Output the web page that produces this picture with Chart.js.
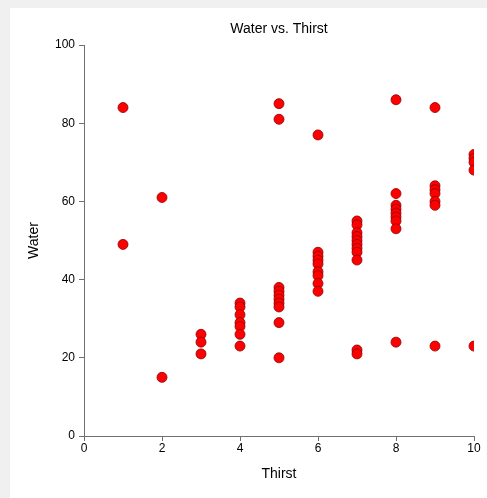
<!DOCTYPE html>
<html>
<head>
<meta charset="utf-8">
<script src="https://cdn.jsdelivr.net/npm/chart.js@4.4.1/dist/chart.umd.min.js"></script>
<style>
  html, body { margin: 0; padding: 0; background: #f0f0f0; }
  #wrap { position: absolute; left: 10px; top: 8px; width: 477px; height: 490px; background: #fff; }
</style>
</head>
<body>
<div id="wrap"><canvas id="myChart"></canvas></div>
<script>
// thirst rating and litres of water, one entry per subject
const thirst = [
  1, 1,
  2, 2,
  3, 3, 3,
  4, 4, 4, 4, 4, 4, 4,
  5, 5, 5, 5, 5, 5, 5, 5, 5, 5,
  6, 6, 6, 6, 6, 6, 6, 6, 6,
  7, 7, 7, 7, 7, 7, 7, 7, 7, 7, 7,
  8, 8, 8, 8, 8, 8, 8, 8, 8,
  9, 9, 9, 9, 9, 9, 9,
  10, 10, 10, 10, 10
];
const water = [
  84, 49,
  61, 15,
  26, 24, 21,
  34, 33, 31, 29, 28, 26, 23,
  85, 81, 38, 37, 36, 35, 34, 33, 29, 20,
  77, 47, 46, 45, 44, 42, 41, 39, 37,
  55, 54, 52, 51, 50, 49, 48, 47, 45, 22, 21,
  86, 62, 59, 58, 57, 56, 55, 53, 24,
  84, 64, 63, 62, 60, 59, 23,
  72, 71, 70, 68, 23
];
const xTicks = [0, 2, 4, 6, 8, 10];
const yTicks = [0, 20, 40, 60, 80, 100];

let points = [];
for (let i = 0; i < thirst.length; i++) {
  points.push({ x: thirst[i], y: water[i] });
}

const font = 'Arial, "Liberation Sans", sans-serif';
const axisColor = '#707070';

const ctx = document.getElementById('myChart').getContext('2d');
new Chart(ctx, {
  type: 'scatter',
  data: {
    datasets: [{
      label: 'Water',
      data: points,
      backgroundColor: '#ff0000',
      borderColor: '#8b0000',
      borderWidth: 0.8,
      pointRadius: 5,
      pointHoverRadius: 5
    }]
  },
  options: {
    responsive: true,
    maintainAspectRatio: false,
    animation: false,
    layout: { padding: { left: 0, right: 13, top: 0, bottom: 0 } },
    plugins: {
      legend: { display: false },
      tooltip: { enabled: false },
      title: {
        display: true,
        text: 'Water vs. Thirst',
        fullSize: false,
        color: '#000',
        font: { family: font, size: 14, weight: 'normal' },
        padding: { top: 12.6, bottom: 7.6 }
      }
    },
    scales: {
      x: {
        type: 'linear',
        min: xTicks[0],
        max: xTicks[xTicks.length - 1],
        afterBuildTicks: axis => { axis.ticks = xTicks.map(v => ({ value: v })); },
        afterFit: axis => { axis.height = 62; },
        grid: { drawOnChartArea: false, drawTicks: true, tickLength: 5, color: axisColor },
        border: { color: axisColor, width: 1 },
        ticks: { color: '#000', padding: 0, font: { family: font, size: 12 } },
        title: {
          display: true,
          text: 'Thirst',
          color: '#000',
          font: { family: font, size: 14 },
          padding: { top: 0, bottom: 15 }
        }
      },
      y: {
        type: 'linear',
        min: yTicks[0],
        max: yTicks[yTicks.length - 1],
        afterBuildTicks: axis => { axis.ticks = yTicks.map(v => ({ value: v })); },
        afterFit: axis => { axis.width = 74; },
        grid: { drawOnChartArea: false, drawTicks: true, tickLength: 5, color: axisColor },
        border: { color: axisColor, width: 1 },
        ticks: { color: '#000', padding: 4, font: { family: font, size: 12 } },
        title: {
          display: true,
          text: 'Water',
          color: '#000',
          font: { family: font, size: 14 },
          padding: { top: 15.6, bottom: 0 }
        }
      }
    }
  }
});
</script>
</body>
</html>
